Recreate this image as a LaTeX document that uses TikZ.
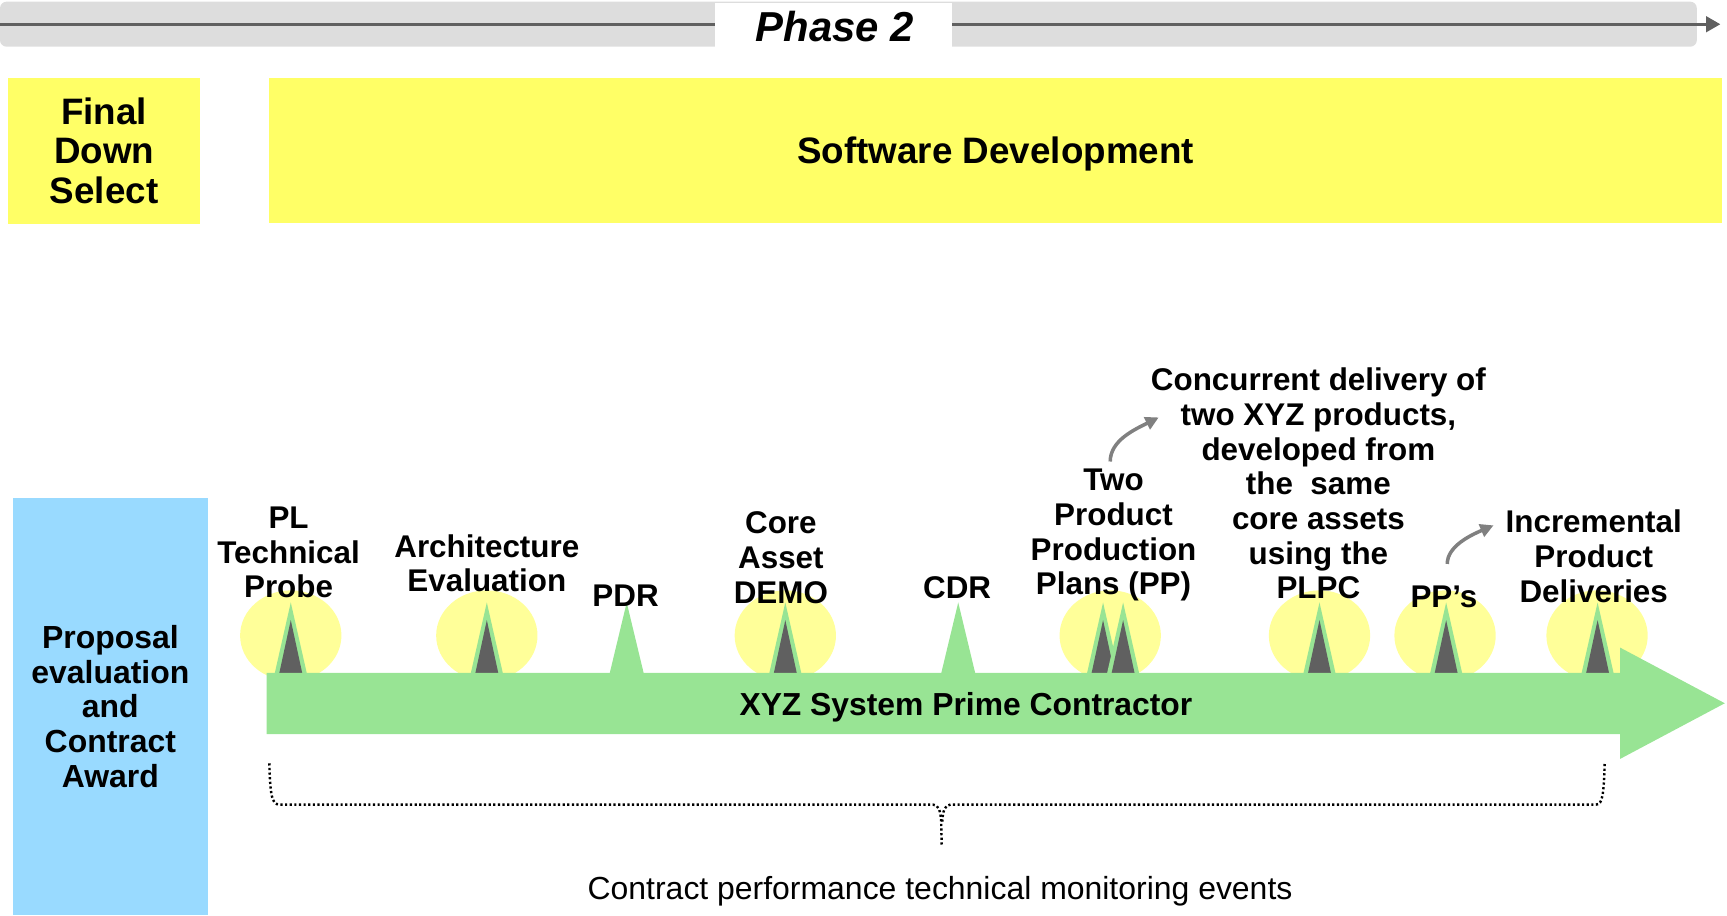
\documentclass[tikz,border=0pt]{standalone}
\usepackage{fontspec}
\setmainfont{Liberation Sans}
\usetikzlibrary{arrows.meta}
\definecolor{bargrey}{HTML}{DDDDDD}
\definecolor{linegrey}{HTML}{606060}
\definecolor{boxyellow}{HTML}{FFFF66}
\definecolor{glowyellow}{HTML}{FFFF99}
\definecolor{skyblue}{HTML}{99DAFF}
\definecolor{primegreen}{HTML}{98E494}
\definecolor{darkgrey}{HTML}{606060}
\definecolor{curvegrey}{HTML}{808080}
\begin{document}
\begin{tikzpicture}[x=1pt,y=-1pt,
  lbl/.style={font=\bfseries\fontsize{28.5}{31.5}\selectfont, align=center, inner sep=0pt},
  bigbox/.style={fill=boxyellow, inner sep=0pt, align=center,
     font=\bfseries\fontsize{33.4}{36}\selectfont},
  curvearrow/.style={curvegrey, line width=3.2pt, -{Triangle[length=12pt,width=12pt]}},
  bracedots/.style={black, line width=2.2pt, dash pattern=on 2pt off 2.2pt}]
\useasboundingbox (0,0) rectangle (1568,831);

% top phase bar
\fill[bargrey, rounded corners=6pt] (0,1.5) rectangle (1540.6,42.4);
\coordinate (tl0) at (0,22);
\coordinate (tl1) at (1562,22);
\draw[linegrey, line width=2.8pt, -{Triangle[length=13pt,width=14pt]}] (tl0) -- (tl1);
\node[fill=white, minimum width=215.5pt, minimum height=40pt, inner sep=0pt] (phasebox) at (756.7,22.4) {};
\node[anchor=base, inner sep=0pt, font=\bfseries\itshape\fontsize{38}{40}\selectfont] (phase) at (758,37.8) {Phase 2};

% yellow boxes
\node[bigbox, minimum width=174.3pt, minimum height=132.5pt] (final) at (94.5,136.8) {Final\\Down\\Select};
\node[bigbox, minimum width=1319pt, minimum height=132pt, text depth=0pt] (software) at (904,136.5) {Software Development};

% blue box
\node[fill=skyblue, minimum width=177.4pt, minimum height=379pt, inner sep=0pt, align=center,
  font=\bfseries\fontsize{29}{31.5}\selectfont] (proposal) at (100.2,641.5) {Proposal\\evaluation\\and\\Contract\\Award};

% glows
\foreach \gx in {264,442,713,1008,1198,1312,1450}
  \fill[glowyellow] (\gx,577) ellipse [x radius=46, y radius=41];

% milestone triangles
\foreach \mx in {264,442,713,1001.5,1019.7,1198,1313,1450.5} {
  \fill[primegreen] (\mx,547) -- (\mx+14.5,611) -- (\mx-14.5,611) -- cycle;
  \fill[darkgrey] (\mx,563) -- (\mx+10.5,611.5) -- (\mx-10.5,611.5) -- cycle;
}
\fill[primegreen] (569,547) -- (584.5,611.5) -- (553.5,611.5) -- cycle;
\fill[primegreen] (870,547) -- (885.5,611.5) -- (854.5,611.5) -- cycle;

% prime contractor arrow
\fill[primegreen] (242,611) -- (1471,611) -- (1471,588) -- (1566,638.5) -- (1471,689)
  -- (1471,666.5) -- (242,666.5) -- cycle;
\node[inner sep=0pt, font=\bfseries\fontsize{28.9}{31.5}\selectfont] (prime) at (877,642) {XYZ System Prime Contractor};

% milestone labels
\node[lbl] (plprobe) at (262,501.5) {PL\\Technical\\Probe};
\node[lbl] (archeval) at (442,511.5) {Architecture\\Evaluation};
\node[lbl] (pdr) at (568,541) {PDR};
\node[lbl] (coredemo) at (709,506.5) {Core\\Asset\\DEMO};
\node[lbl] (cdr) at (869,534) {CDR};
\node[lbl] (twopp) at (1011,486) {Two\\Product\\Production\\Plans (PP)};
\node[lbl] (concurrent) at (1197,439) {Concurrent delivery of\\two XYZ products,\\developed from\\the~~same\\core assets\\using the\\PLPC};
\node[lbl] (pps) at (1311,542) {PP’s};
\node[lbl] (incr) at (1447,505) {Incremental\\Product\\Deliveries};

% curved arrows
\coordinate (ca1s) at (1008,419);
\coordinate (ca1e) at (1052,379);
\draw[curvearrow] (ca1s) .. controls (1008,400) and (1030,390) .. (ca1e);
\coordinate (ca2s) at (1314,512);
\coordinate (ca2e) at (1356,477);
\draw[curvearrow] (ca2s) .. controls (1314,496) and (1335,486) .. (ca2e);

% brace
\coordinate (brl) at (244.5,693);
\coordinate (brm) at (855,767);
\coordinate (brr) at (1457,692);
\draw[bracedots] (brl) .. controls (245.5,722) and (246.5,730.5) .. (254,730.5) -- (847,730.5)
  .. controls (852,730.5) and (854,736) .. (854.5,746) -- (brm);
\draw[bracedots] (855.5,746) .. controls (856,736) and (858,730.5) .. (863,730.5) -- (1449,730.5)
  .. controls (1455,730.5) and (1456,722) .. (brr);
\node[anchor=base, inner sep=0pt, font=\fontsize{29}{31}\selectfont] (monitor) at (853.5,816.6) {Contract performance technical monitoring events};
\end{tikzpicture}
\end{document}
